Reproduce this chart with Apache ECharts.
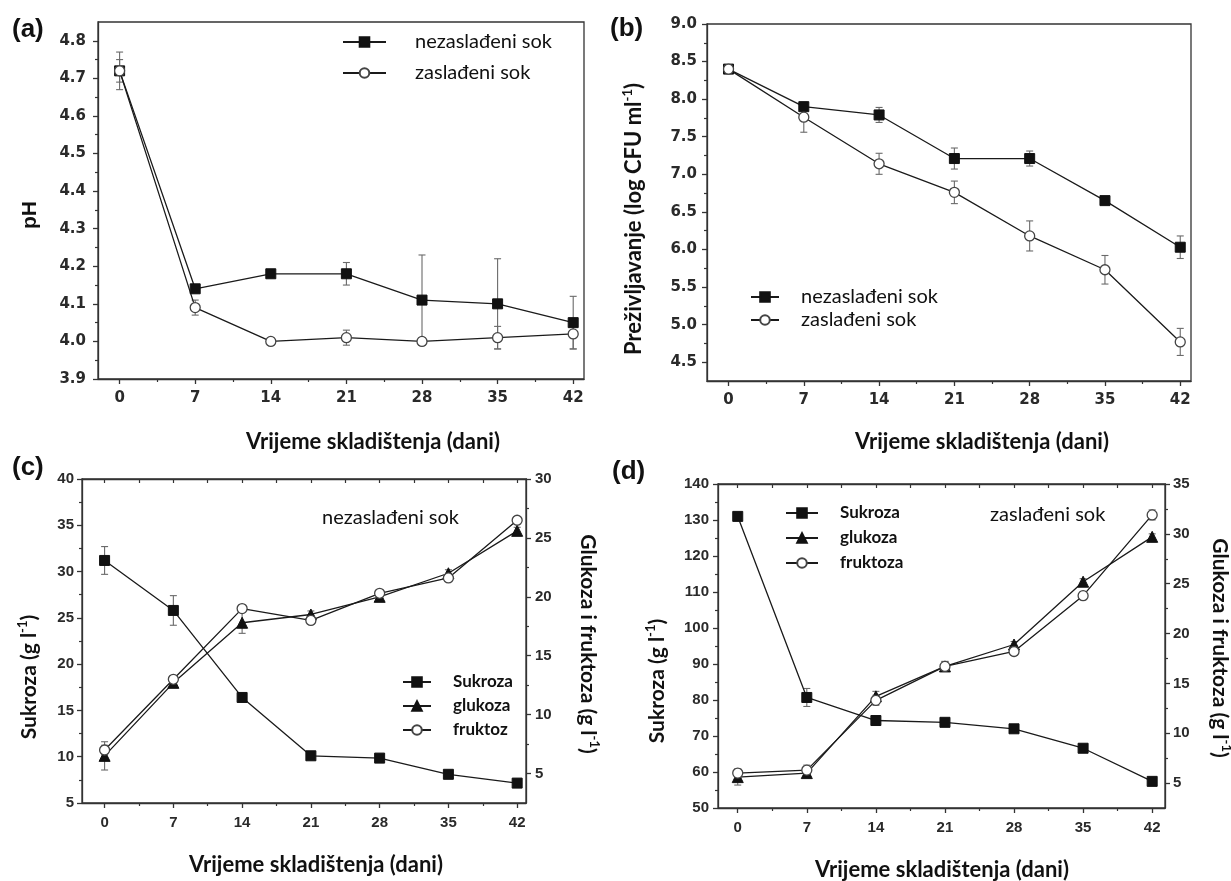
<!DOCTYPE html>
<html>
<head>
<meta charset="utf-8">
<script src="https://cdn.jsdelivr.net/npm/echarts@6/dist/echarts.min.js"></script>
<style>
html,body{margin:0;padding:0;background:#fff;}
#chart{width:1231px;height:881px;}
</style>
</head>
<body>
<div id="chart"></div>
<script>
// ---------- data ----------
const days = [0, 7, 14, 21, 28, 35, 42];
const dayMinor = [3.5, 10.5, 17.5, 24.5, 31.5, 38.5];

// (a) pH
const phUnsweet    = [4.72, 4.14, 4.18, 4.18, 4.11, 4.10, 4.05];
const phUnsweetErr = [0.05, 0.01, 0.01, 0.03, 0.12, 0.12, 0.07];
const phSweet      = [4.72, 4.09, 4.00, 4.01, 4.00, 4.01, 4.02];
const phSweetErr   = [0.03, 0.02, 0.01, 0.02, 0.01, 0.03, 0.04];
const phTicks = [3.9, 4.0, 4.1, 4.2, 4.3, 4.4, 4.5, 4.6, 4.7, 4.8];
const phMinor = [3.95, 4.05, 4.15, 4.25, 4.35, 4.45, 4.55, 4.65, 4.75];

// (b) survival
const survUnsweet    = [8.40, 7.90, 7.79, 7.21, 7.21, 6.65, 6.03];
const survUnsweetErr = [0.05, 0.05, 0.10, 0.14, 0.10, 0.03, 0.15];
const survSweet      = [8.40, 7.76, 7.14, 6.76, 6.18, 5.73, 4.77];
const survSweetErr   = [0.05, 0.20, 0.14, 0.15, 0.20, 0.19, 0.18];
const survTicks = [4.5, 5.0, 5.5, 6.0, 6.5, 7.0, 7.5, 8.0, 8.5, 9.0];
const survMinor = [4.75, 5.25, 5.75, 6.25, 6.75, 7.25, 7.75, 8.25, 8.75];

// (c) unsweetened sugars
const sucC    = [31.2, 25.8, 16.4, 10.1, 9.85, 8.1, 7.15];
const sucCErr = [1.5, 1.6, 0.3, 0.3, 0.3, 0.2, 0.2];
const gluC    = [6.5, 12.7, 17.8, 18.5, 20.0, 22.0, 25.6];
const gluCErr = [1.2, 0.3, 0.9, 0.3, 0.3, 0.3, 0.3];
const fruC    = [7.0, 13.0, 19.0, 18.0, 20.3, 21.6, 26.5];
const fruCErr = [0.4, 0.2, 0.3, 0.3, 0.3, 0.3, 0.3];
const sucCTicks = [5, 10, 15, 20, 25, 30, 35, 40];
const sucCMinor = [7.5, 12.5, 17.5, 22.5, 27.5, 32.5, 37.5];
const gfCTicks = [5, 10, 15, 20, 25, 30];
const gfCMinor = [7.5, 12.5, 17.5, 22.5, 27.5];

// (d) sweetened sugars
const sucD    = [131, 80.7, 74.3, 73.8, 72.0, 66.6, 57.4];
const sucDErr = [0.8, 2.5, 1.0, 0.8, 0.8, 0.8, 0.5];
const gluD    = [5.6, 6.0, 13.7, 16.7, 18.9, 25.2, 29.7];
const gluDErr = [0.8, 0.3, 0.5, 0.5, 0.3, 0.3, 0.3];
const fruD    = [6.0, 6.3, 13.3, 16.7, 18.2, 23.8, 31.9];
const fruDErr = [0.4, 0.5, 0.5, 0.5, 0.4, 0.4, 0.5];
const sucDTicks = [50, 60, 70, 80, 90, 100, 110, 120, 130, 140];
const sucDMinor = [55, 65, 75, 85, 95, 105, 115, 125, 135];
const gfDTicks = [5, 10, 15, 20, 25, 30, 35];
const gfDMinor = [7.5, 12.5, 17.5, 22.5, 27.5, 32.5];

// ---------- helpers ----------
const AX = '#333';
const fontWide = {fontFamily: 'DejaVu Sans', fontWeight: 'bold', fontSize: 15, color: '#2a2a2a'};
const fontNarrow = {fontFamily: 'Liberation Sans', fontWeight: 'bold', fontSize: 15, color: '#2a2a2a'};

function xMain(grid, min, max, tf) {
  return {type: 'value', gridIndex: grid, position: 'bottom', min: min, max: max,
    axisLine: {show: true, onZero: false, lineStyle: {color: AX, width: 1.3}},
    axisTick: {show: true, length: 5, customValues: days, lineStyle: {color: AX, width: 1.3}},
    axisLabel: Object.assign({customValues: days, margin: 12}, tf),
    splitLine: {show: false}};
}
function xMinorAx(grid, min, max) {
  return {type: 'value', gridIndex: grid, position: 'bottom', min: min, max: max,
    axisLine: {show: false, onZero: false},
    axisTick: {show: true, length: 3, customValues: dayMinor, lineStyle: {color: AX, width: 1.2}},
    axisLabel: {show: false}, splitLine: {show: false}};
}
function xTop(grid, min, max) {
  return {type: 'value', gridIndex: grid, position: 'top', min: min, max: max,
    axisLine: {show: true, onZero: false, lineStyle: {color: AX, width: 1.3}},
    axisTick: {show: true, inside: true, length: 4, customValues: days.concat(dayMinor), lineStyle: {color: AX, width: 1.2}},
    axisLabel: {show: false}, splitLine: {show: false}};
}
function yMain(grid, pos, min, max, ticks, dec, margin, tf) {
  return {type: 'value', gridIndex: grid, position: pos, min: min, max: max,
    axisLine: {show: true, onZero: false, lineStyle: {color: AX, width: 1.3}},
    axisTick: {show: true, length: 5, customValues: ticks, lineStyle: {color: AX, width: 1.3}},
    axisLabel: Object.assign({customValues: ticks, margin: margin,
      formatter: function (v) { return Number(v).toFixed(dec); }}, tf),
    splitLine: {show: false}};
}
function yMinorAx(grid, pos, min, max, minor) {
  return {type: 'value', gridIndex: grid, position: pos, min: min, max: max,
    axisLine: {show: false, onZero: false},
    axisTick: {show: true, length: 3, customValues: minor, lineStyle: {color: AX, width: 1.2}},
    axisLabel: {show: false}, splitLine: {show: false}};
}

const SYM = {
  square:   {symbol: 'rect', symbolSize: 10, itemStyle: {color: '#111', borderColor: '#111', borderWidth: 1}},
  circle:   {symbol: 'circle', symbolSize: 10, itemStyle: {color: '#fff', borderColor: '#444', borderWidth: 1.3}},
  triangle: {symbol: 'triangle', symbolSize: 11, itemStyle: {color: '#111', borderColor: '#111', borderWidth: 1}}
};
function lineS(name, vals, xi, yi, kind) {
  return Object.assign({type: 'line', name: name, xAxisIndex: xi, yAxisIndex: yi,
    data: days.map(function (d, i) { return [d, vals[i]]; }),
    lineStyle: {color: '#1a1a1a', width: 1.3}, z: 4, animation: false,
    emphasis: {disabled: true}}, SYM[kind]);
}
function errS(vals, errs, xi, yi) {
  return {type: 'custom', name: '_err', xAxisIndex: xi, yAxisIndex: yi, z: 3, silent: true, animation: false,
    encode: {x: 0, y: [1, 2]},
    data: days.map(function (d, i) { return [d, vals[i] - errs[i], vals[i] + errs[i]]; }),
    renderItem: function (params, api) {
      const x = api.value(0);
      const pLo = api.coord([x, api.value(1)]);
      const pHi = api.coord([x, api.value(2)]);
      const w = 3.5, st = {stroke: '#6a6a6a', lineWidth: 1.1};
      return {type: 'group', children: [
        {type: 'line', shape: {x1: pHi[0], y1: pHi[1], x2: pLo[0], y2: pLo[1]}, style: st},
        {type: 'line', shape: {x1: pHi[0] - w, y1: pHi[1], x2: pHi[0] + w, y2: pHi[1]}, style: st},
        {type: 'line', shape: {x1: pLo[0] - w, y1: pLo[1], x2: pLo[0] + w, y2: pLo[1]}, style: st}
      ]};
    }};
}

// ---------- option ----------
const grids = [
  {left: 98, top: 22, width: 486, height: 357},
  {left: 707, top: 24, width: 484, height: 357},
  {left: 82, top: 479, width: 444, height: 324},
  {left: 718, top: 484, width: 447, height: 324}
].map(function (g) { return Object.assign({show: true, borderColor: AX, borderWidth: 1.3, backgroundColor: 'transparent'}, g); });

const xAxes = [
  xMain(0, -2, 43, fontWide), xMinorAx(0, -2, 43),                                         // 0,1
  xMain(1, -2, 43, fontWide), xMinorAx(1, -2, 43),                                         // 2,3
  xMain(2, -2.3, 42.9, fontNarrow), xMinorAx(2, -2.3, 42.9), xTop(2, -2.3, 42.9),          // 4,5,6
  xMain(3, -2, 43.3, fontNarrow), xMinorAx(3, -2, 43.3), xTop(3, -2, 43.3)                 // 7,8,9
];
const yAxes = [
  yMain(0, 'left', 3.9, 4.85, phTicks, 1, 12, fontWide), yMinorAx(0, 'left', 3.9, 4.85, phMinor),       // 0,1
  yMain(1, 'left', 4.25, 9.0, survTicks, 1, 10, fontWide), yMinorAx(1, 'left', 4.25, 9.0, survMinor),   // 2,3
  yMain(2, 'left', 5, 40, sucCTicks, 0, 8, fontNarrow), yMinorAx(2, 'left', 5, 40, sucCMinor),          // 4,5
  yMain(2, 'right', 2.5, 30, gfCTicks, 0, 9, fontNarrow), yMinorAx(2, 'right', 2.5, 30, gfCMinor),      // 6,7
  yMain(3, 'left', 50, 140, sucDTicks, 0, 9, fontNarrow), yMinorAx(3, 'left', 50, 140, sucDMinor),      // 8,9
  yMain(3, 'right', 2.5, 35, gfDTicks, 0, 8, fontNarrow), yMinorAx(3, 'right', 2.5, 35, gfDMinor)       // 10,11
];

const series = [
  errS(phUnsweet, phUnsweetErr, 0, 0), errS(phSweet, phSweetErr, 0, 0),
  lineS('nezaslađeni sok', phUnsweet, 0, 0, 'square'),
  lineS('zaslađeni sok', phSweet, 0, 0, 'circle'),

  errS(survUnsweet, survUnsweetErr, 2, 2), errS(survSweet, survSweetErr, 2, 2),
  lineS('nezaslađeni sok', survUnsweet, 2, 2, 'square'),
  lineS('zaslađeni sok', survSweet, 2, 2, 'circle'),

  errS(sucC, sucCErr, 4, 4), errS(gluC, gluCErr, 4, 6), errS(fruC, fruCErr, 4, 6),
  lineS('Sukroza', sucC, 4, 4, 'square'),
  lineS('glukoza', gluC, 4, 6, 'triangle'),
  lineS('fruktoz', fruC, 4, 6, 'circle'),

  errS(sucD, sucDErr, 7, 8), errS(gluD, gluDErr, 7, 10), errS(fruD, fruDErr, 7, 10),
  lineS('Sukroza', sucD, 7, 8, 'square'),
  lineS('glukoza', gluD, 7, 10, 'triangle'),
  lineS('fruktoza', fruD, 7, 10, 'circle')
];

function legendAt(left, top, names, iw, gap, font, weight, pad) {
  return {orient: 'vertical', left: left, top: top, data: names, itemWidth: iw, itemHeight: 12,
    itemGap: gap, selectedMode: false, padding: 0,
    textStyle: {fontFamily: 'Lato', fontSize: font, fontWeight: weight, color: '#111',
      lineHeight: 20, padding: [0, 0, 0, pad]}};
}
const legends = [
  legendAt(342, 32, ['nezaslađeni sok', 'zaslađeni sok'], 43, 11, 20, 'normal', 24),
  legendAt(750, 287, ['nezaslađeni sok', 'zaslađeni sok'], 28, 3, 20, 'normal', 17),
  legendAt(402, 672, ['Sukroza', 'glukoza', 'fruktoz'], 28, 4, 17, 'bold', 17),
  legendAt(785, 503, ['Sukroza', 'glukoza', 'fruktoza'], 32, 5, 17, 'bold', 17)
];

const titleFont = {fontFamily: 'Lato', fontWeight: 'bold', fill: '#111'};
function gText(x, y, text, size, rot, extra) {
  return {type: 'text', x: x, y: y, rotation: rot || 0, silent: true,
    style: Object.assign({text: text, fontSize: size, align: 'center', verticalAlign: 'middle',
      lineHeight: size + 4,
      rich: {sup: {fontSize: Math.round(size * 0.6), fontFamily: 'Lato', fontWeight: 'bold',
        fill: '#111', verticalAlign: 'top', lineHeight: Math.round(size * 0.6)}}}, titleFont, extra || {})};
}
const panelFont = {fontFamily: 'Liberation Sans', fontWeight: 'bold', fill: '#111', align: 'left'};
const graphics = [
  gText(12, 30, '(a)', 26, 0, panelFont),
  gText(610, 29, '(b)', 26, 0, panelFont),
  gText(12, 468, '(c)', 26, 0, panelFont),
  gText(612, 472, '(d)', 26, 0, panelFont),

  gText(373, 442, 'Vrijeme skladištenja (dani)', 22, 0),
  gText(982, 442, 'Vrijeme skladištenja (dani)', 22, 0),
  gText(316, 865, 'Vrijeme skladištenja (dani)', 22, 0),
  gText(942, 870, 'Vrijeme skladištenja (dani)', 22, 0),

  gText(30, 215, 'pH', 21, Math.PI / 2, {fontFamily: 'Liberation Sans'}),
  gText(634, 219, 'Preživljavanje (log CFU ml{sup|-1})', 22, Math.PI / 2),
  gText(29, 677, 'Sukroza (g l{sup|-1})', 21, Math.PI / 2),
  gText(588, 644, 'Glukoza i fruktoza (g l{sup|-1})', 21, -Math.PI / 2),
  gText(657, 681, 'Sukroza (g l{sup|-1})', 21, Math.PI / 2),
  gText(1220, 648, 'Glukoza i fruktoza (g l{sup|-1})', 21, -Math.PI / 2),

  gText(459, 518, 'nezaslađeni sok', 20, 0, {fontWeight: 'normal', align: 'right'}),
  gText(990, 515, 'zaslađeni sok', 20, 0, {fontWeight: 'normal', align: 'left'})
];

const chart = echarts.init(document.getElementById('chart'), null, {renderer: 'canvas'});
chart.setOption({
  backgroundColor: '#fff',
  animation: false,
  grid: grids,
  xAxis: xAxes,
  yAxis: yAxes,
  legend: legends,
  series: series,
  graphic: graphics
});
</script>
</body>
</html>
